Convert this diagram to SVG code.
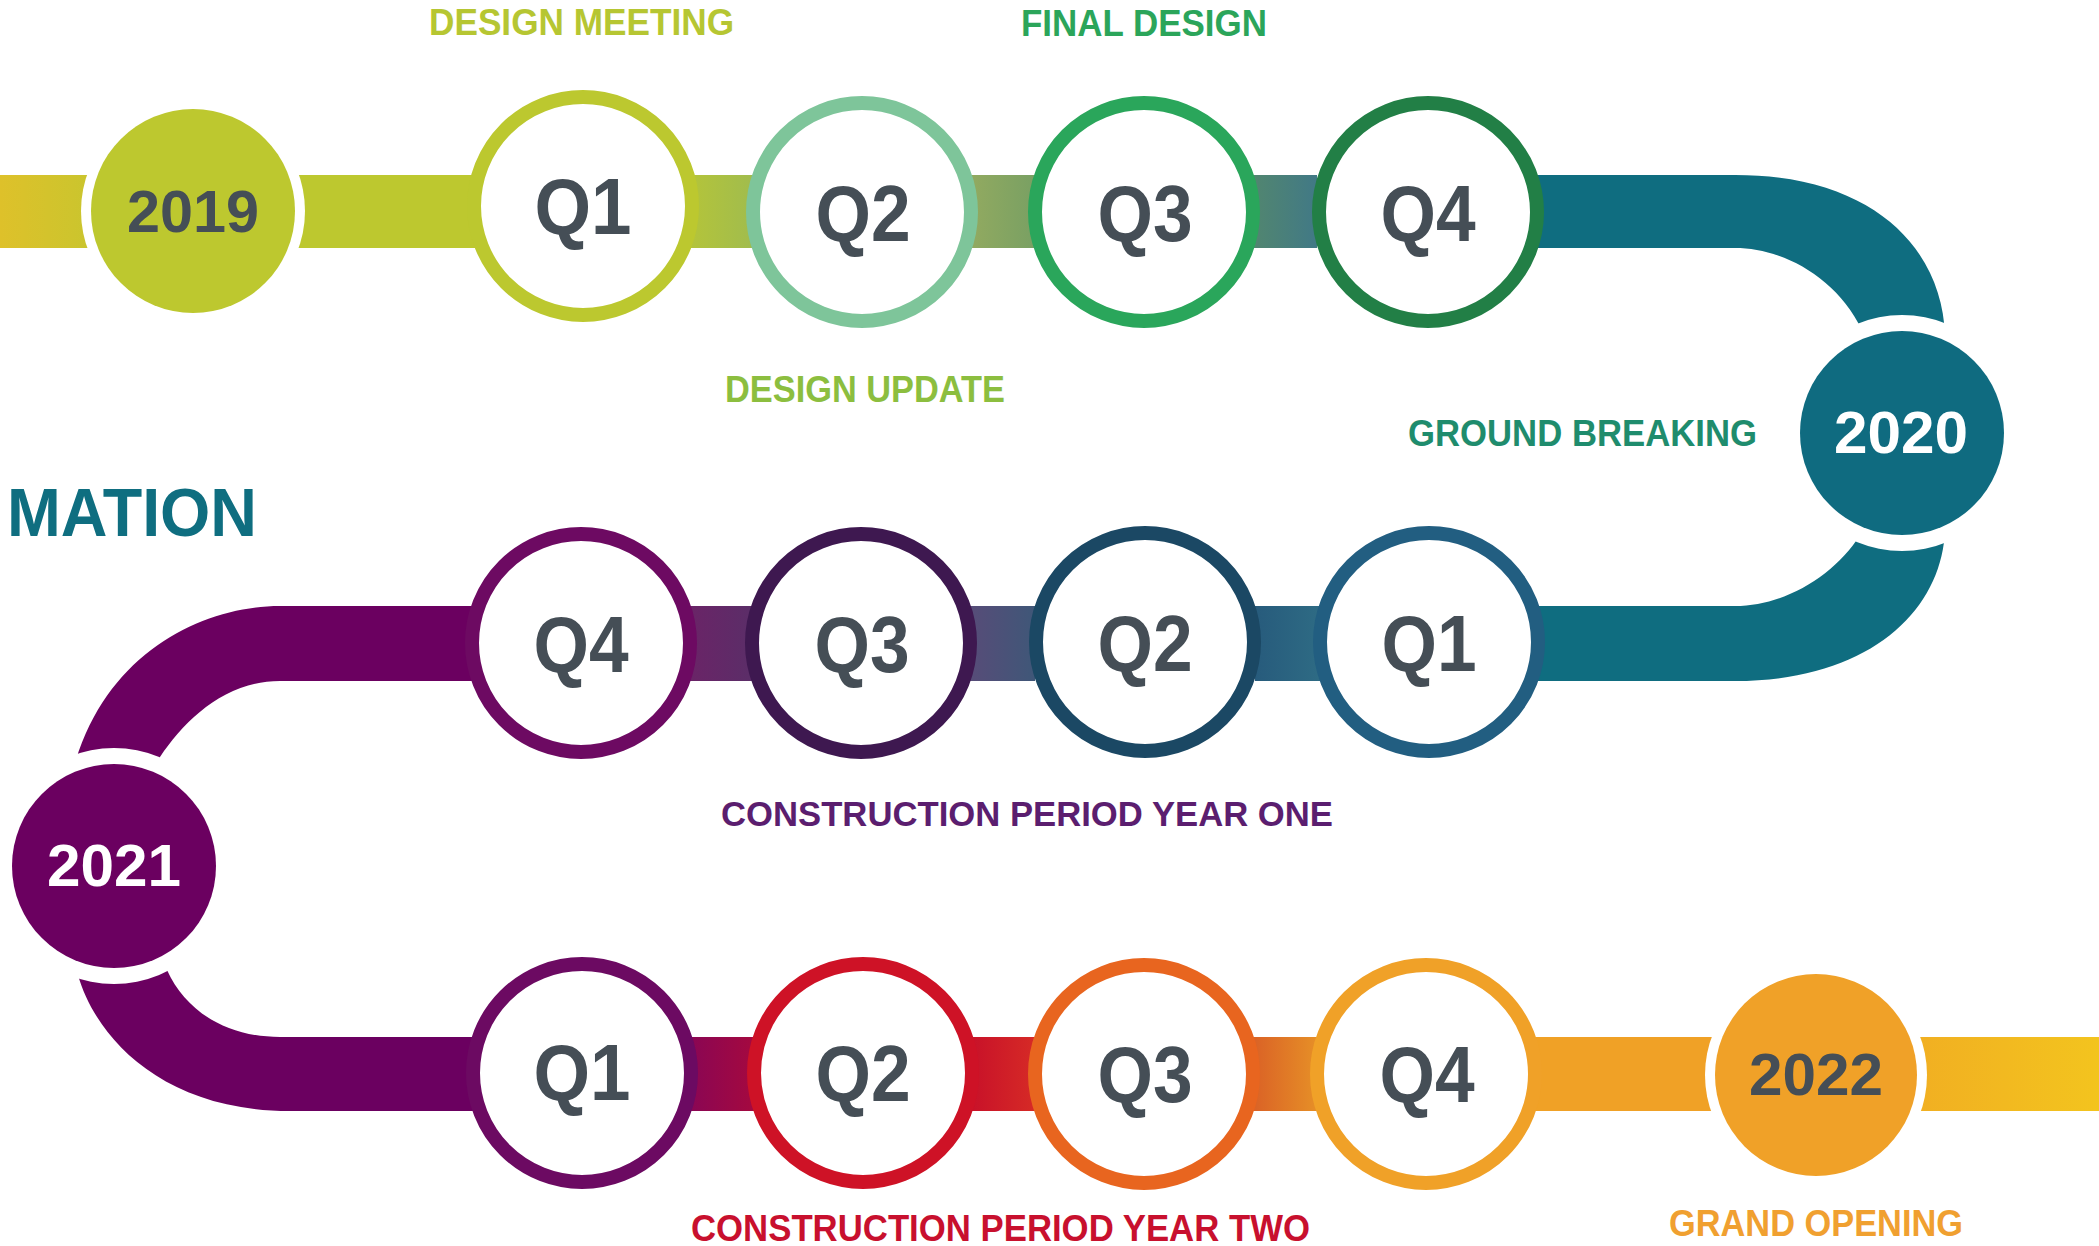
<svg xmlns="http://www.w3.org/2000/svg" width="2099" height="1246" viewBox="0 0 2099 1246">
<defs>
<linearGradient id="g0" x1="0" x2="1" y1="0" y2="0"><stop offset="0" stop-color="#DEC12A"/><stop offset="1" stop-color="#C9C52E"/></linearGradient>
<linearGradient id="g1" x1="0" x2="1"><stop offset="0" stop-color="#B4C43A"/><stop offset="1" stop-color="#A0BC4E"/></linearGradient>
<linearGradient id="g2" x1="0" x2="1"><stop offset="0" stop-color="#92AA60"/><stop offset="1" stop-color="#79A063"/></linearGradient>
<linearGradient id="g3" x1="0" x2="1"><stop offset="0" stop-color="#52866F"/><stop offset="1" stop-color="#417986"/></linearGradient>
<linearGradient id="g4" x1="0" x2="1"><stop offset="0" stop-color="#275B7C"/><stop offset="1" stop-color="#2E6B84"/></linearGradient>
<linearGradient id="g5" x1="0" x2="1"><stop offset="0" stop-color="#574C78"/><stop offset="1" stop-color="#3F5778"/></linearGradient>
<linearGradient id="g6" x1="0" x2="1"><stop offset="0" stop-color="#6A2467"/><stop offset="1" stop-color="#5A2E68"/></linearGradient>
<linearGradient id="g7" x1="0" x2="1"><stop offset="0" stop-color="#8A0654"/><stop offset="1" stop-color="#A5093F"/></linearGradient>
<linearGradient id="g8" x1="0" x2="1"><stop offset="0" stop-color="#C81129"/><stop offset="1" stop-color="#D62A26"/></linearGradient>
<linearGradient id="g9" x1="0" x2="1"><stop offset="0" stop-color="#DA6126"/><stop offset="1" stop-color="#E68F27"/></linearGradient>
<linearGradient id="g10" x1="0" x2="1"><stop offset="0" stop-color="#F0A424"/><stop offset="1" stop-color="#F3C41E"/></linearGradient>
</defs>
<style>
.ring{fill:#fff;stroke-width:14}
.q{font-family:"Liberation Sans",Arial,sans-serif;font-weight:bold;font-size:80px;fill:#454E56;text-anchor:middle}
.yr{font-family:"Liberation Sans",Arial,sans-serif;font-weight:bold;font-size:60px;text-anchor:middle}
.lbl{font-family:"Liberation Sans",Arial,sans-serif;font-weight:bold;font-size:36px}
.gap{fill:#fff}
</style>
<g id="connectors">
<rect x="0" y="175" width="95" height="73" fill="url(#g0)"/>
<rect x="95" y="175" width="490" height="73" fill="#BDC82F"/>
<rect x="690" y="175" width="65" height="73" fill="url(#g1)"/>
<rect x="970" y="175" width="65" height="73" fill="url(#g2)"/>
<rect x="1252" y="175" width="65" height="73" fill="url(#g3)"/>
<path d="M1420 175 H1735 C1875 175 1942 250 1945 335 L1945 530 C1942 610 1870 681 1735 681 H1420 V606 H1735 C1785 606 1835 575 1860 535 L1862 330 C1835 275 1780 248 1735 248 H1420 Z" fill="#0F6D80"/>
<rect x="1255" y="606" width="65" height="75" fill="url(#g4)"/>
<rect x="970" y="606" width="65" height="75" fill="url(#g5)"/>
<rect x="690" y="606" width="65" height="75" fill="url(#g6)"/>
<path d="M590 606 H280 C205 606 110 650 76 760 L78 975 C95 1035 160 1111 290 1111 H590 V1037 H280 C225 1037 185 1010 167 970 L160 757 C185 720 225 681 280 681 H590 Z" fill="#6B0060"/>
<rect x="690" y="1037" width="65" height="74" fill="url(#g7)"/>
<rect x="970" y="1037" width="65" height="74" fill="url(#g8)"/>
<rect x="1252" y="1037" width="65" height="74" fill="url(#g9)"/>
<rect x="1428" y="1037" width="390" height="74" fill="#F0A126"/>
<rect x="1818" y="1037" width="281" height="74" fill="url(#g10)"/>
</g>
<g id="y2019"><circle class="gap" cx="193" cy="211" r="112"/><circle cx="193" cy="211" r="102" fill="#BDC82F"/><text class="yr" x="193" y="232" fill="#454E56" textLength="132" lengthAdjust="spacingAndGlyphs">2019</text></g>
<g id="r1q1"><circle class="ring" cx="583" cy="206" r="109" stroke="#BCC82F"/><text class="q" x="583" y="234" textLength="97" lengthAdjust="spacingAndGlyphs">Q1</text></g>
<g id="r1q2"><circle class="ring" cx="862" cy="212" r="109" stroke="#7EC59A"/><text class="q" x="863" y="241" textLength="95" lengthAdjust="spacingAndGlyphs">Q2</text></g>
<g id="r1q3"><circle class="ring" cx="1144" cy="212" r="109" stroke="#2AA65B"/><text class="q" x="1145" y="241" textLength="95" lengthAdjust="spacingAndGlyphs">Q3</text></g>
<g id="r1q4"><circle class="ring" cx="1428" cy="212" r="109" stroke="#227F46"/><text class="q" x="1428" y="241" textLength="95" lengthAdjust="spacingAndGlyphs">Q4</text></g>
<g id="y2020"><circle class="gap" cx="1902" cy="433" r="118"/><circle cx="1902" cy="433" r="102" fill="#0F6B80"/><text class="yr" x="1901" y="453" fill="#fff" textLength="134" lengthAdjust="spacingAndGlyphs">2020</text></g>
<g id="r2q1"><circle class="ring" cx="1429" cy="642" r="109" stroke="#225E81"/><text class="q" x="1429" y="671" textLength="95" lengthAdjust="spacingAndGlyphs">Q1</text></g>
<g id="r2q2"><circle class="ring" cx="1145" cy="642" r="109" stroke="#1B4864"/><text class="q" x="1145" y="671" textLength="95" lengthAdjust="spacingAndGlyphs">Q2</text></g>
<g id="r2q3"><circle class="ring" cx="861" cy="643" r="109" stroke="#3E1850"/><text class="q" x="862" y="672" textLength="95" lengthAdjust="spacingAndGlyphs">Q3</text></g>
<g id="r2q4"><circle class="ring" cx="581" cy="643" r="109" stroke="#6D0A62"/><text class="q" x="581" y="672" textLength="95" lengthAdjust="spacingAndGlyphs">Q4</text></g>
<g id="y2021"><circle class="gap" cx="114" cy="866" r="118"/><circle cx="114" cy="866" r="102" fill="#6B0060"/><text class="yr" x="114" y="886" fill="#fff" textLength="134" lengthAdjust="spacingAndGlyphs">2021</text></g>
<g id="r3q1"><circle class="ring" cx="582" cy="1073" r="109" stroke="#6C0A62"/><text class="q" x="582" y="1100" textLength="97" lengthAdjust="spacingAndGlyphs">Q1</text></g>
<g id="r3q2"><circle class="ring" cx="863" cy="1073" r="109" stroke="#CE1226"/><text class="q" x="863" y="1101" textLength="95" lengthAdjust="spacingAndGlyphs">Q2</text></g>
<g id="r3q3"><circle class="ring" cx="1144" cy="1074" r="109" stroke="#E8651F"/><text class="q" x="1145" y="1102" textLength="95" lengthAdjust="spacingAndGlyphs">Q3</text></g>
<g id="r3q4"><circle class="ring" cx="1426" cy="1074" r="109" stroke="#F0A128"/><text class="q" x="1427" y="1102" textLength="95" lengthAdjust="spacingAndGlyphs">Q4</text></g>
<g id="y2022"><circle class="gap" cx="1816" cy="1075" r="111"/><circle cx="1816" cy="1075" r="101" fill="#F0A128"/><text class="yr" x="1816" y="1095" fill="#454E56" textLength="134" lengthAdjust="spacingAndGlyphs">2022</text></g>
<g id="labels">
<text class="lbl" x="429" y="35" fill="#B6C632" textLength="305" lengthAdjust="spacingAndGlyphs">DESIGN MEETING</text>
<text class="lbl" x="1021" y="36" fill="#2BA55A" textLength="246" lengthAdjust="spacingAndGlyphs">FINAL DESIGN</text>
<text class="lbl" x="725" y="402" fill="#8CBE3F" textLength="280" lengthAdjust="spacingAndGlyphs">DESIGN UPDATE</text>
<text class="lbl" x="1408" y="446" fill="#1F8C6D" textLength="349" lengthAdjust="spacingAndGlyphs">GROUND BREAKING</text>
<text class="lbl" x="7" y="536" fill="#0F6E80" style="font-size:69px" textLength="250" lengthAdjust="spacingAndGlyphs">MATION</text>
<text class="lbl" x="721" y="826" fill="#5B1E6F" style="font-size:35px" textLength="612" lengthAdjust="spacingAndGlyphs">CONSTRUCTION PERIOD YEAR ONE</text>
<text class="lbl" x="691" y="1241" fill="#C8102E" textLength="619" lengthAdjust="spacingAndGlyphs">CONSTRUCTION PERIOD YEAR TWO</text>
<text class="lbl" x="1669" y="1236" fill="#F0A030" textLength="294" lengthAdjust="spacingAndGlyphs">GRAND OPENING</text>
</g>
</svg>
